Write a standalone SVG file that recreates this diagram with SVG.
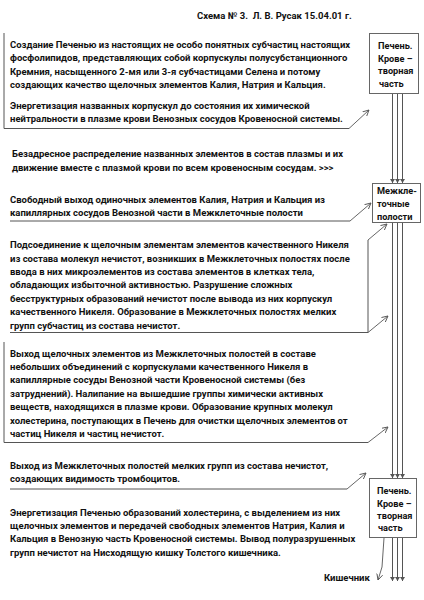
<svg xmlns="http://www.w3.org/2000/svg" width="424" height="600" viewBox="0 0 424 600">
<style>
text{font-family:Roboto,"Liberation Sans",sans-serif;font-weight:bold;font-size:9.5px;fill:#111}
.bt{font-size:9.2px}
.ln{fill:none;stroke:#555;stroke-width:1}
.box{fill:#fff;stroke:#666;stroke-width:1}
.arr{fill:none;stroke:#555;stroke-width:0.9;marker-end:url(#ah)}
.v{fill:none;stroke:#555;stroke-width:1;marker-end:url(#av)}
</style>
<defs>
<marker id="ah" markerWidth="8" markerHeight="8" refX="6" refY="3.5" orient="auto" markerUnits="userSpaceOnUse"><path d="M0,0.5 L6,3.5 L0,6.5" fill="none" stroke="#555" stroke-width="0.9"/></marker>
<marker id="av" markerWidth="6" markerHeight="6" refX="4" refY="2.5" orient="auto" markerUnits="userSpaceOnUse"><path d="M0,0 L4,2.5 L0,5 Z" fill="#555"/></marker>
</defs>
<rect width="424" height="600" fill="#fff"/>

<g id="title"><text x="197" y="18.5">Схема № 3.&#160; Л. В. Русак 15.04.01 г.</text></g>

<g id="block1">
<path class="ln" d="M4,33 V128.5 H349"/>
<text x="10" y="47.5">Создание Печенью из настоящих не особо понятных субчастиц настоящих</text>
<text x="10" y="61">фосфолипидов, представляющих собой корпускулы полусубстанционного</text>
<text x="10" y="74.5">Кремния, насыщенного 2-мя или 3-я субчастицами Селена и потому</text>
<text x="10" y="87.5">создающих качество щелочных элементов Калия, Натрия и Кальция.</text>
<text x="10" y="109">Энергетизация названных корпускул до состояния их химической</text>
<text x="10" y="122">нейтральности в плазме крови Венозных сосудов Кровеносной системы.</text>
</g>

<g id="block2">
<text x="12" y="157">Безадресное распределение названных элементов в состав плазмы и их</text>
<text x="12" y="170.5">движение вместе с плазмой крови по всем кровеносным сосудам. &gt;&gt;&gt;</text>
</g>

<g id="block3">
<path class="ln" d="M10,221 H350"/>
<text x="10" y="202.5">Свободный выход одиночных элементов Калия, Натрия и Кальция из</text>
<text x="10" y="216">капиллярных сосудов Венозной части в Межклеточные полости</text>
</g>

<g id="block4">
<path class="ln" d="M368,240 V332.5 H10"/>
<text x="10" y="248">Подсоединение к щелочным элементам элементов качественного Никеля</text>
<text x="10" y="261.5">из состава молекул нечистот, возникших в Межклеточных полостях после</text>
<text x="10" y="275">ввода в них микроэлементов из состава элементов в клетках тела,</text>
<text x="10" y="288.3">обладающих избыточной активностью. Разрушение сложных</text>
<text x="10" y="301.7">бесструктурных образований нечистот после вывода из них корпускул</text>
<text x="10" y="315">качественного Никеля. Образование в Межклеточных полостях мелких</text>
<text x="10" y="328.5">групп субчастиц из состава нечистот.</text>
</g>

<g id="block5">
<path class="ln" d="M4,342 V442.5 H368"/>
<text x="10" y="356.5">Выход щелочных элементов из Межклеточных полостей в составе</text>
<text x="10" y="370">небольших объединений с корпускулами качественного Никеля в</text>
<text x="10" y="383.3">капиллярные сосуды Венозной части Кровеносной системы (без</text>
<text x="10" y="396.7">затруднений). Налипание на вышедшие группы химически активных</text>
<text x="10" y="410">веществ, находящихся в плазме крови. Образование крупных молекул</text>
<text x="10" y="423.5">холестерина, поступающих в Печень для очистки щелочных элементов от</text>
<text x="10" y="437">частиц Никеля и частиц нечистот.</text>
</g>

<g id="block6">
<path class="ln" d="M10,489 H347"/>
<text x="10" y="468.5">Выход из Межклеточных полостей мелких групп из состава нечистот,</text>
<text x="10" y="482">создающих видимость тромбоцитов.</text>
</g>

<g id="block7">
<text x="10" y="515.5">Энергетизация Печенью образований холестерина, с выделением из них</text>
<text x="10" y="529">щелочных элементов и передачей свободных элементов Натрия, Калия и</text>
<text x="10" y="542.3">Кальция в Венозную часть Кровеносной системы. Вывод полуразрушенных</text>
<text x="10" y="555.7">групп нечистот на Нисходящую кишку Толстого кишечника.</text>
</g>

<g id="box1">
<rect class="box" x="369.5" y="33.5" width="49" height="60"/>
<text class="bt" x="378" y="49">Печень.</text>
<text class="bt" x="378" y="61.5">Крове –</text>
<text class="bt" x="378" y="74">творная</text>
<text class="bt" x="379" y="86.5">часть</text>
</g>

<g id="box2">
<rect class="box" x="372.5" y="183.5" width="48" height="39"/>
<text class="bt" x="377" y="194">Межкле-</text>
<text class="bt" x="377" y="207">точные</text>
<text class="bt" x="377" y="220">полости</text>
</g>

<g id="box3">
<rect class="box" x="369.5" y="478.5" width="47" height="59"/>
<text class="bt" x="377" y="494">Печень.</text>
<text class="bt" x="377" y="506.5">Крове –</text>
<text class="bt" x="377" y="519">творная</text>
<text class="bt" x="378" y="531">часть</text>
</g>

<g id="kishechnik"><text x="324" y="580.5">Кишечник</text></g>

<g id="connectors">
<path class="v" d="M392.5,94 V183"/>
<path class="v" d="M397.5,94 V183"/>
<path class="v" d="M402.5,94 V183"/>
<path class="v" d="M392.5,223 V478"/>
<path class="v" d="M397.5,223 V478"/>
<path class="v" d="M402.5,223 V478"/>
<path class="v" d="M392.5,538 V581"/>
<path class="v" d="M397.5,538 V581"/>
<path class="v" d="M402.5,538 V581"/>
<path class="arr" d="M349,128.5 L369,110"/>
<path class="arr" d="M350,221 L371,203"/>
<path class="arr" d="M368,240 L387,224"/>
<path class="arr" d="M368,332.5 L388,316"/>
<path class="arr" d="M368,442.5 L388,427"/>
<path class="arr" d="M347,489 L366,473"/>
<path class="arr" d="M384,538 L382,567 L378,580"/>
</g>
</svg>
